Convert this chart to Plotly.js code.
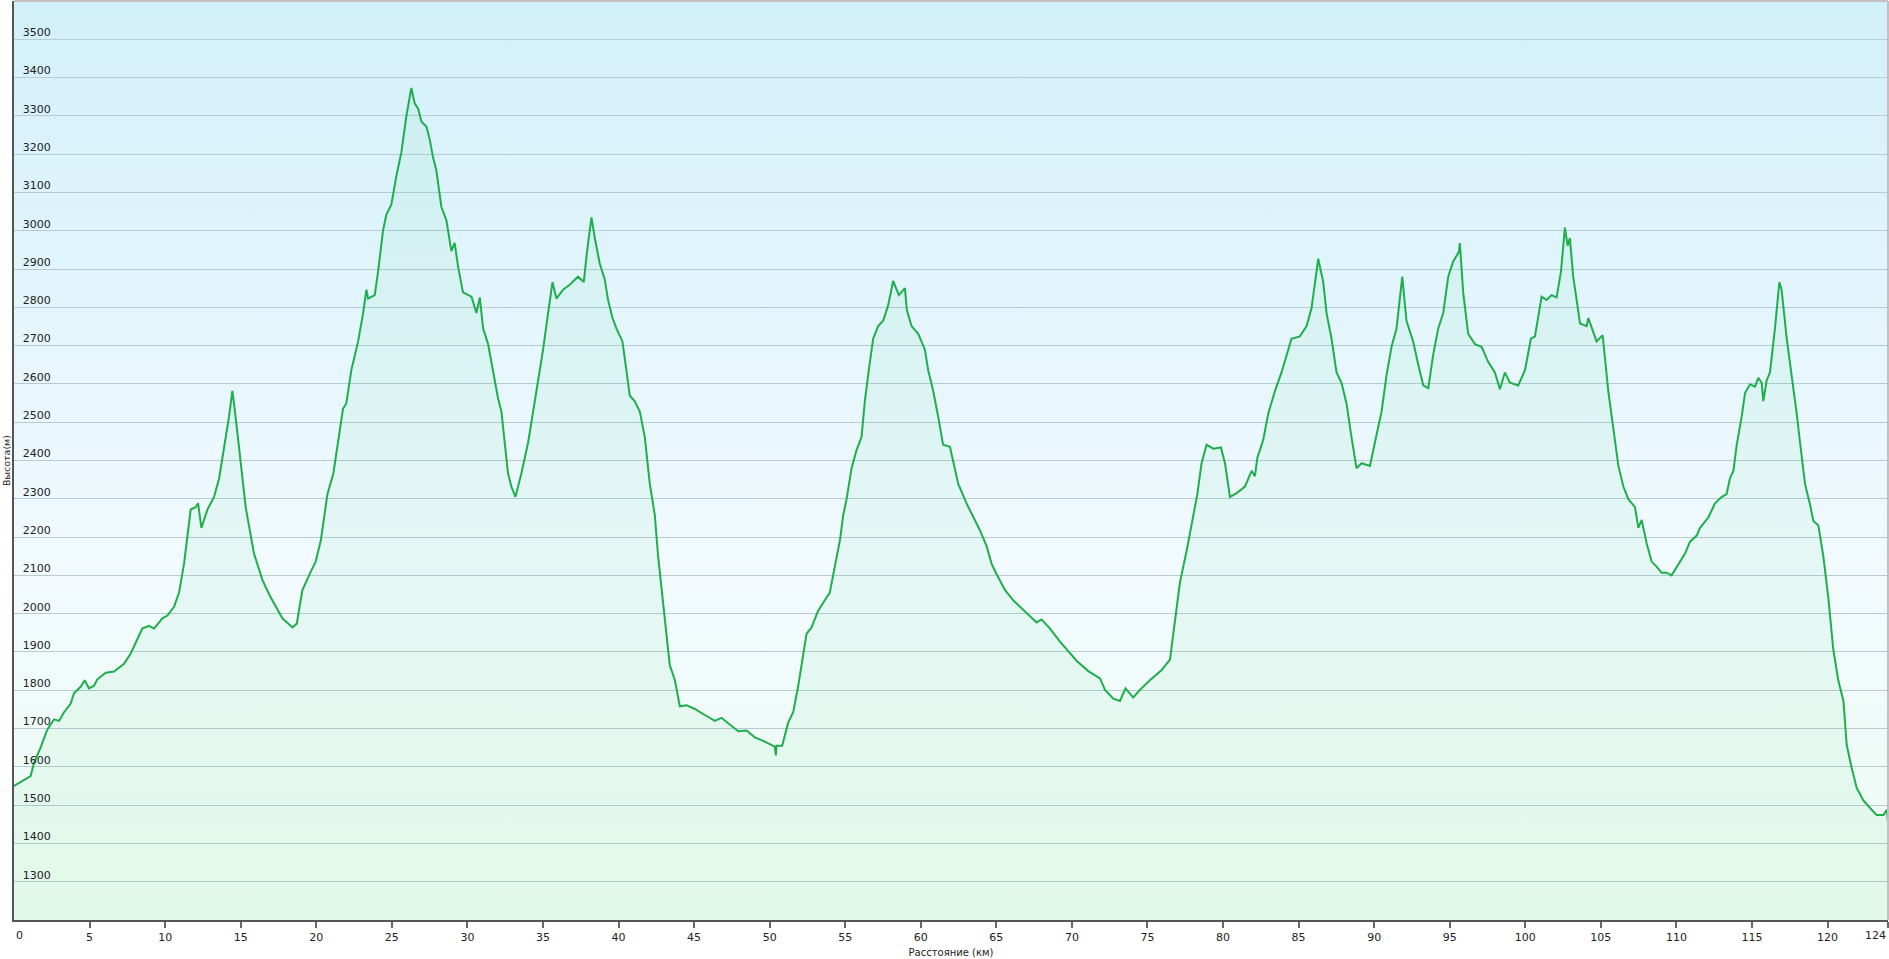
<!DOCTYPE html>
<html>
<head>
<meta charset="utf-8">
<script src="https://cdn.plot.ly/plotly-3.0.1.min.js"></script>
<style>
html,body{margin:0;padding:0;background:#fff;}
#chart{width:1889px;height:959px;}
</style>
</head>
<body>
<div id="chart"></div>
<script>
// Distance along the route (km)
const distanceKm = [0,1.1,1.32,1.76,2.2,2.65,2.98,3.3,3.75,3.97,4.41,4.68,4.96,5.3,5.5,6.07,6.62,7.28,7.72,8.16,8.49,8.93,9.27,9.82,10.15,10.59,10.92,11.25,11.69,12.02,12.18,12.4,12.8,13.24,13.57,13.9,14.23,14.45,14.56,14.89,15.33,15.88,16.43,16.66,16.99,17.76,18.42,18.71,19.08,19.63,19.96,20.3,20.74,21.13,21.44,21.77,21.99,22.32,22.77,23.1,23.32,23.43,23.87,24.09,24.42,24.64,24.97,25.3,25.63,25.96,26.29,26.52,26.74,26.96,27.29,27.51,27.73,27.95,28.28,28.61,28.94,29.16,29.38,29.71,30.27,30.6,30.82,31.04,31.37,31.7,32.03,32.25,32.47,32.69,32.91,33.18,33.57,34.02,34.35,34.68,35.01,35.34,35.63,35.89,36.33,36.77,37.32,37.7,37.92,38.21,38.43,38.76,39.09,39.31,39.6,39.86,40.26,40.52,40.75,41.07,41.41,41.74,42.07,42.4,42.62,42.95,43.17,43.39,43.73,44.06,44.5,45.05,45.6,46.37,46.81,47.25,47.92,48.47,49.02,49.68,50.34,50.41,50.45,50.83,51.23,51.56,51.89,52.22,52.44,52.77,53.21,53.65,53.98,54.31,54.65,54.87,55.09,55.42,55.75,56.08,56.3,56.56,56.85,57.18,57.51,57.84,58.17,58.55,58.95,59.08,59.39,59.83,60.27,60.49,60.82,61.15,61.48,61.93,62.26,62.48,63.03,63.43,63.91,64.35,64.69,65.02,65.57,66.12,66.67,67.33,67.66,67.99,68.55,69.21,69.76,70.31,71.08,71.86,72.19,72.74,73.18,73.55,74.06,74.5,75.16,75.94,76.49,76.82,77.15,77.59,77.92,78.3,78.58,78.91,79.36,79.86,80.13,80.46,80.9,81.45,81.89,82.11,82.27,82.66,82.99,83.44,83.87,84.53,85.08,85.53,85.86,86.3,86.63,86.85,87.18,87.51,87.84,88.17,88.5,88.83,89.17,89.72,90.05,90.49,90.82,91.15,91.48,91.86,92.14,92.58,92.92,93.25,93.58,93.91,94.24,94.57,94.9,95.23,95.61,95.67,95.89,96.22,96.67,97.11,97.55,97.99,98.32,98.65,98.98,99.53,99.98,100.37,100.64,101.08,101.41,101.74,102.07,102.36,102.62,102.8,102.95,103.17,103.4,103.62,104.06,104.17,104.72,105.12,105.49,105.82,106.16,106.49,106.82,107.26,107.48,107.7,108.03,108.36,108.69,109.02,109.35,109.68,110.13,110.57,110.9,111.34,111.56,112.11,112.55,113.0,113.32,113.55,113.77,113.99,114.32,114.54,114.87,115.2,115.42,115.64,115.75,115.97,116.19,116.52,116.81,116.96,117.3,117.63,117.96,118.18,118.51,118.84,119.06,119.39,119.72,120.05,120.38,120.71,121.05,121.27,121.6,121.93,122.37,122.92,123.25,123.7,123.92,124.0];

// Elevation (m)
const elevationM = [1550,1576,1610,1650,1697,1724,1720,1742,1765,1792,1809,1826,1805,1812,1828,1846,1849,1869,1896,1931,1961,1968,1961,1988,1995,2018,2055,2130,2272,2278,2288,2224,2272,2305,2353,2434,2515,2582,2549,2434,2278,2157,2089,2069,2042,1988,1964,1974,2061,2109,2136,2191,2312,2366,2447,2535,2549,2636,2711,2785,2846,2823,2832,2893,3001,3042,3069,3143,3204,3299,3373,3332,3319,3285,3272,3238,3191,3157,3062,3028,2947,2968,2907,2839,2828,2785,2826,2745,2704,2636,2562,2528,2447,2366,2332,2305,2366,2447,2528,2609,2690,2785,2866,2823,2846,2859,2880,2866,2947,3035,2981,2914,2873,2819,2772,2745,2711,2636,2569,2555,2528,2461,2339,2258,2150,2028,1947,1866,1826,1758,1761,1751,1738,1720,1728,1715,1693,1695,1677,1666,1653,1630,1655,1655,1716,1743,1811,1893,1947,1964,2008,2035,2055,2123,2191,2258,2299,2380,2427,2461,2555,2636,2718,2751,2765,2805,2869,2832,2850,2792,2751,2731,2690,2636,2582,2515,2441,2436,2380,2339,2288,2258,2218,2177,2130,2103,2062,2035,2015,1991,1977,1985,1961,1927,1903,1877,1850,1831,1801,1778,1772,1805,1781,1801,1826,1853,1880,1988,2082,2164,2231,2312,2393,2441,2431,2434,2393,2305,2315,2332,2373,2359,2407,2454,2522,2582,2630,2718,2724,2751,2799,2927,2866,2785,2718,2630,2603,2549,2461,2380,2393,2386,2447,2528,2623,2697,2745,2880,2765,2711,2650,2596,2589,2677,2745,2785,2880,2920,2945,2968,2839,2731,2704,2697,2657,2630,2586,2630,2603,2596,2636,2718,2724,2828,2819,2832,2826,2893,3008,2961,2981,2880,2819,2758,2751,2772,2711,2727,2582,2488,2386,2332,2299,2278,2224,2245,2184,2136,2123,2107,2107,2100,2130,2157,2188,2204,2224,2251,2288,2305,2312,2355,2373,2441,2515,2576,2599,2593,2616,2603,2555,2609,2630,2745,2866,2846,2718,2623,2522,2447,2339,2285,2242,2231,2150,2042,1907,1826,1772,1657,1596,1545,1512,1488,1474,1474,1488,1454];

const xTickVals = [0,5,10,15,20,25,30,35,40,45,50,55,60,65,70,75,80,85,90,95,100,105,110,115,120,124];
const xTickText = ['','5','10','15','20','25','30','35','40','45','50','55','60','65','70','75','80','85','90','95','100','105','110','115','120',''];
const firstTickLabel = '0';
const lastTickLabel = '124';
const yTickVals = [1300,1400,1500,1600,1700,1800,1900,2000,2100,2200,2300,2400,2500,2600,2700,2800,2900,3000,3100,3200,3300,3400,3500];
const xTitle = 'Расстояние (км)';
const yTitle = 'Высота(м)';

const bgSvg = "<svg xmlns='http://www.w3.org/2000/svg' width='100' height='100' preserveAspectRatio='none'>" +
  "<defs><linearGradient id='g' x1='0' y1='0' x2='0' y2='1'>" +
  "<stop offset='0' stop-color='#d2f0fa'/><stop offset='0.62' stop-color='#f2fafe'/><stop offset='1' stop-color='#edfcf2'/>" +
  "</linearGradient></defs><rect width='100' height='100' fill='url(#g)'/></svg>";
const bgUri = "data:image/svg+xml;charset=utf-8," + encodeURIComponent(bgSvg);

const trace = {
  x: distanceKm,
  y: elevationM,
  type: 'scatter',
  mode: 'lines',
  line: {color: '#1fae4c', width: 2},
  fill: 'tozeroy',
  fillcolor: 'rgba(60,205,125,0.065)',
  hoverinfo: 'x+y'
};

const font = "DejaVu Sans, Verdana, sans-serif";

const layout = {
  width: 1889,
  height: 959,
  margin: {l: 14, r: 1, t: 1, b: 39, pad: 0},
  paper_bgcolor: '#ffffff',
  plot_bgcolor: 'rgba(0,0,0,0)',
  showlegend: false,
  font: {family: font, size: 11, color: '#222'},
  images: [{
    source: bgUri, xref: 'paper', yref: 'paper', x: 0, y: 1,
    sizex: 1, sizey: 1, sizing: 'stretch', xanchor: 'left', yanchor: 'top', layer: 'below'
  }],
  xaxis: {
    range: [0, 124],
    tickmode: 'array',
    tickvals: xTickVals,
    ticktext: xTickText,
    ticks: 'outside',
    ticklen: 6,
    tickwidth: 2,
    tickcolor: '#666',
    ticklabeloverflow: 'allow',
    showgrid: false,
    zeroline: false,
    showline: true,
    linecolor: '#555',
    linewidth: 2,
    tickfont: {family: font, size: 11, color: '#222'},
    title: {text: xTitle, font: {family: font, size: 10, color: '#222'}, standoff: 6},
    fixedrange: true
  },
  yaxis: {
    range: [1200, 3600],
    tickmode: 'array',
    tickvals: yTickVals,
    ticks: '',
    ticklabelposition: 'inside',
    ticklabelshift: -7,
    ticklabelstandoff: 8,
    showgrid: true,
    gridcolor: '#b6cbd3',
    gridwidth: 1,
    zeroline: false,
    showline: true,
    linecolor: '#555',
    linewidth: 2,
    tickfont: {family: font, size: 11, color: '#222'},
    fixedrange: true
  },
  annotations: [
    {text: yTitle, xref: 'paper', yref: 'paper', x: 0, y: 0.5, xanchor: 'right', yanchor: 'middle',
     xshift: -1, borderpad: 0, textangle: -90, showarrow: false, font: {family: font, size: 9.5, color: '#222'}},
    {text: firstTickLabel, xref: 'x', yref: 'paper', x: 0, y: 0, xanchor: 'left', yanchor: 'top',
     xshift: 0, yshift: -7, showarrow: false, font: {family: font, size: 11, color: '#222'}},
    {text: lastTickLabel, xref: 'x', yref: 'paper', x: 124, y: 0, xanchor: 'right', yanchor: 'top',
     xshift: 0, yshift: -7, showarrow: false, font: {family: font, size: 11, color: '#222'}}
  ],
  shapes: [
    {type: 'line', xref: 'paper', yref: 'paper', x0: 0, x1: 1, y0: 1, y1: 1, line: {color: '#c0c0c0', width: 2}},
    {type: 'line', xref: 'paper', yref: 'paper', x0: 1, x1: 1, y0: 0, y1: 1, line: {color: '#c0c0c0', width: 2}}
  ]
};

Plotly.newPlot('chart', [trace], layout, {displayModeBar: false, staticPlot: true});
</script>
</body>
</html>
